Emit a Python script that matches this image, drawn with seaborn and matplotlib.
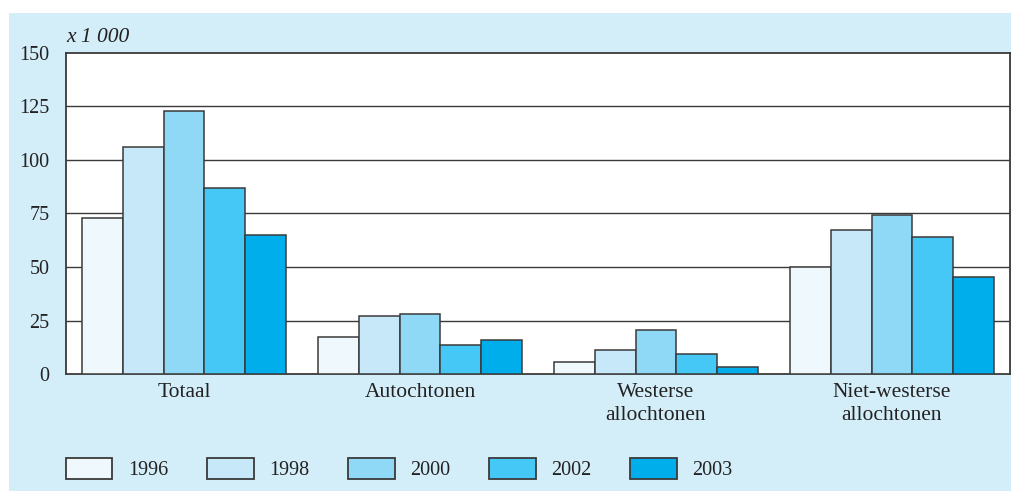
import matplotlib
matplotlib.use("Agg")
import matplotlib.pyplot as plt
import seaborn as sns
import pandas as pd
from matplotlib.patches import Rectangle

categories = ["Totaal", "Autochtonen", "Westerse\nallochtonen", "Niet-westerse\nallochtonen"]
years = ["1996", "1998", "2000", "2002", "2003"]
v1996 = [73, 17.5, 5.5, 50]
v1998 = [106, 27, 11, 67.5]
v2000 = [123, 28, 20.5, 74.5]
v2002 = [87, 13.5, 9.5, 64]
v2003 = [65, 16, 3.5, 45.5]
colors = ["#EEF8FD", "#C6E8F8", "#8FD9F6", "#45C8F5", "#00AEEB"]
yticks = [0, 25, 50, 75, 100, 125, 150]

rows = []
for yr, vals in zip(years, [v1996, v1998, v2000, v2002, v2003]):
    for c, v in zip(categories, vals):
        rows.append({"cat": c, "year": yr, "value": v})
df = pd.DataFrame(rows)

sns.set_theme(style="white")
plt.rcParams["font.family"] = ["Liberation Serif", "DejaVu Serif"]
FS = 15.5
FSN = 14.5

fig = plt.figure(figsize=(10.12, 4.91), dpi=100, facecolor="white")
bg = "#D4EEF9"
fig.patches.append(Rectangle((9/1012, 0), 1 - 9/1012, 1 - 13/491, transform=fig.transFigure,
                             facecolor=bg, edgecolor="none", zorder=-10))

ax = fig.add_axes([66/1012, 1 - 374/491, (1010 - 66)/1012, (374 - 53)/491])
ax.set_facecolor("white")
edge = "#3a3a3a"
sns.barplot(data=df, x="cat", y="value", hue="year", hue_order=years, order=categories,
            palette=colors, width=0.865, edgecolor=edge, linewidth=1.1, ax=ax,
            saturation=1, zorder=3)
ax.set_ylim(0, 150)
ax.set_xlim(-0.5, 3.5)
ax.set_yticks(yticks)
ax.set_yticklabels([str(t) for t in yticks], fontsize=FSN, color="#222")
ax.tick_params(axis="both", length=0, colors="#222")
ax.tick_params(axis="y", pad=12)
ax.tick_params(axis="x", pad=6.5)
for lbl in ax.get_xticklabels():
    lbl.set_fontsize(FS)
    lbl.set_linespacing(1.25)
for t in yticks[1:-1]:
    ax.axhline(t, color=edge, lw=1.0, zorder=1)
for s in ax.spines.values():
    s.set_color(edge)
    s.set_linewidth(1.3)
ax.set_xlabel("")
ax.set_ylabel("")
ax.text(0.0, 1.018, "x 1 000", transform=ax.transAxes, fontsize=FS, style="italic",
        color="#222", ha="left", va="bottom")

handles, labels = ax.get_legend_handles_labels()
ax.legend_.remove()
leg = fig.legend(handles, labels, loc="lower left", bbox_to_anchor=(58/1012, 3/491), ncol=5,
                 frameon=False, fontsize=FSN, handlelength=2.3, handleheight=1.25,
                 handletextpad=0.78, columnspacing=1.93, borderaxespad=0)
for h in leg.legend_handles:
    h.set_edgecolor(edge)
    h.set_linewidth(1.3)
for t in leg.get_texts():
    t.set_color("#222")

fig.savefig("out.png", dpi=100, facecolor="white")
